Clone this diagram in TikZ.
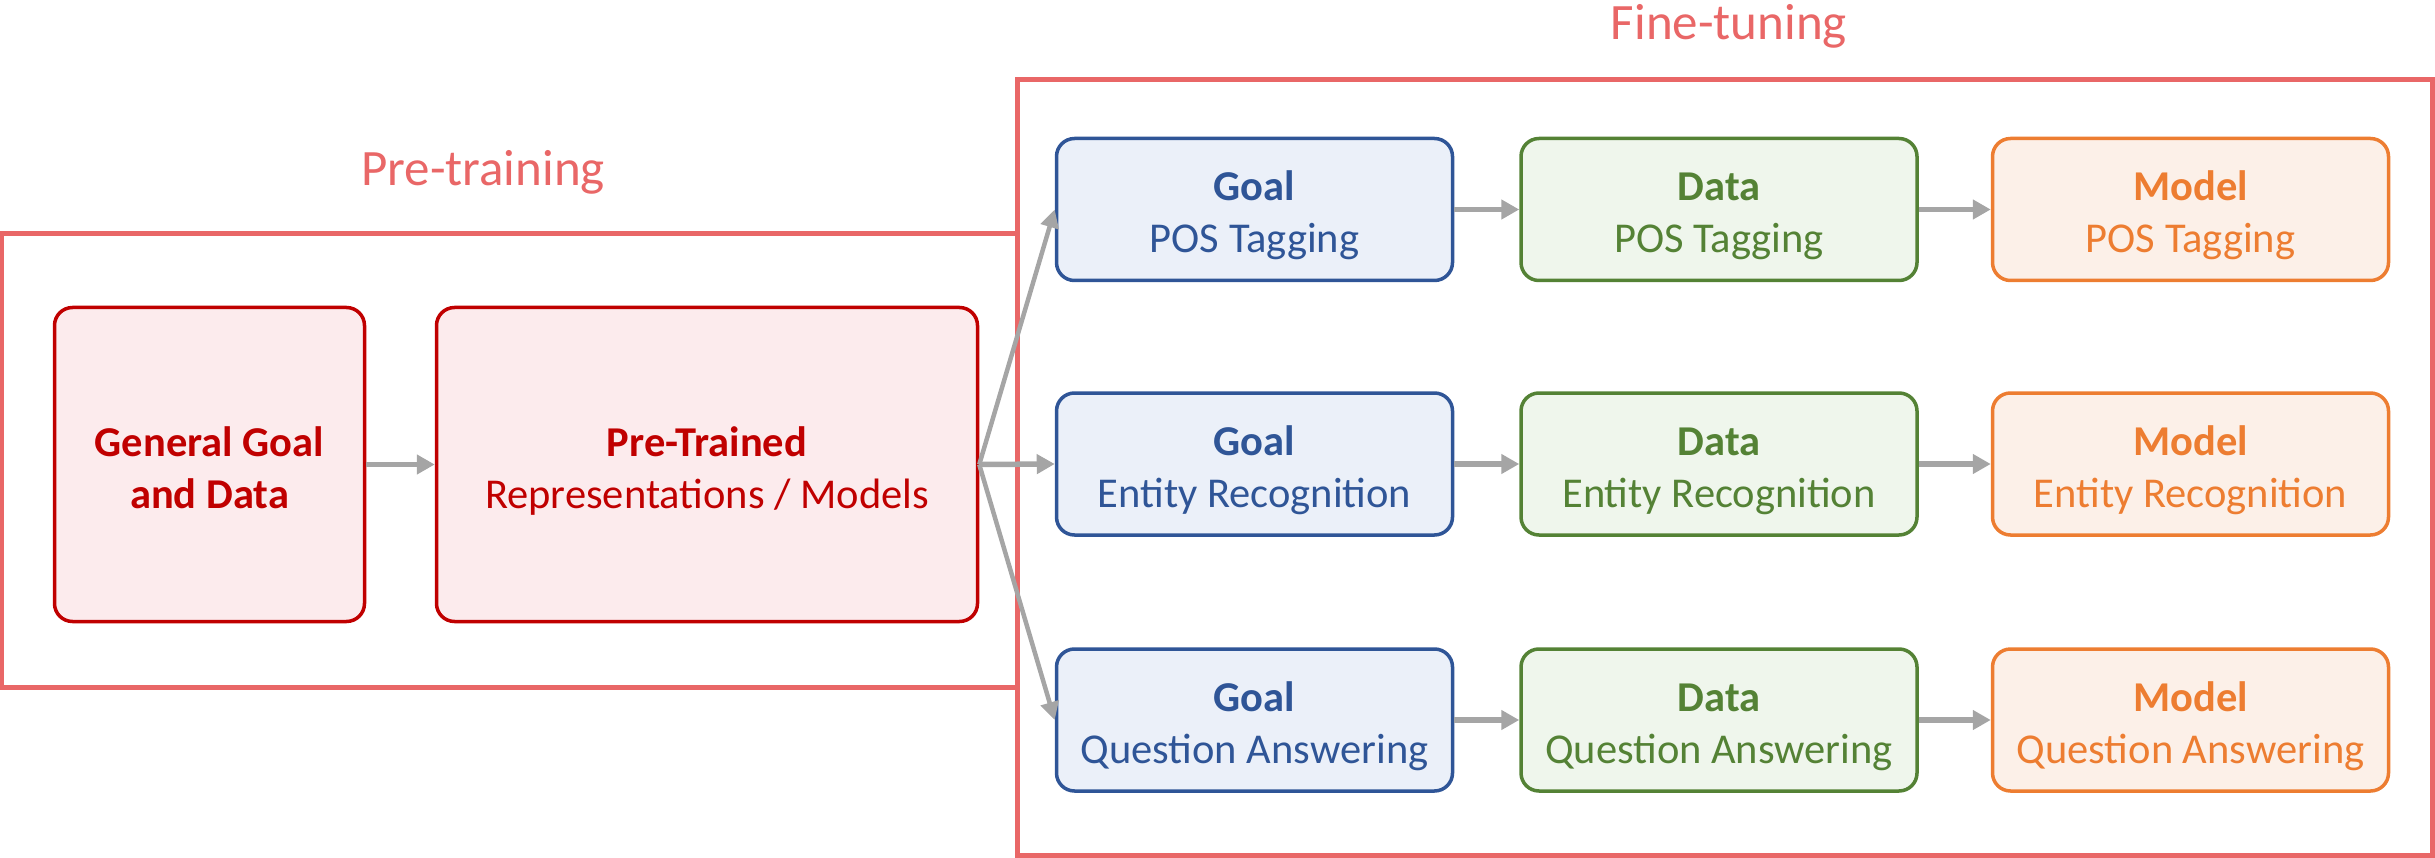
\documentclass[tikz,border=0pt]{standalone}
\usepackage{fontspec}
\setmainfont{Carlito}
\usetikzlibrary{arrows.meta}
\definecolor{framered}{HTML}{E96767}
\definecolor{ptred}{HTML}{C00000}
\definecolor{ptfill}{HTML}{FCEBED}
\definecolor{goalblue}{HTML}{2F5597}
\definecolor{goalfill}{HTML}{EBF0F9}
\definecolor{datagreen}{HTML}{548235}
\definecolor{datafill}{HTML}{EFF6EC}
\definecolor{modelorange}{HTML}{ED7D31}
\definecolor{modelfill}{HTML}{FCF0E8}
\definecolor{arrowgray}{HTML}{A5A5A5}
\newcommand\tstrut{\rule{0pt}{46pt}}
\newcommand\bstrut{\rule[-11pt]{0pt}{11pt}}
\begin{document}
\begin{tikzpicture}[x=1pt,y=-1pt,
  frm/.style={draw=framered, line width=5pt, inner sep=0pt},
  ttl/.style={text=framered, anchor=base, font=\fontsize{51}{60}\selectfont},
  box/.style={line width=3.5pt, rounded corners=18pt, inner sep=0pt, align=center,
    font=\fontsize{42.5}{52}\selectfont},
  ptbox/.style={box, draw=ptred, fill=ptfill, text=ptred, minimum height=314pt},
  goalbox/.style={box, draw=goalblue, fill=goalfill, text=goalblue, minimum width=396pt, minimum height=142pt},
  databox/.style={box, draw=datagreen, fill=datafill, text=datagreen, minimum width=396pt, minimum height=142pt},
  modelbox/.style={box, draw=modelorange, fill=modelfill, text=modelorange, minimum width=396pt, minimum height=142pt},
  arr/.style={draw=arrowgray, line width=5.5pt, -{Triangle[length=18pt,width=19pt]}},
  fan/.style={draw=arrowgray, line width=4.5pt, -{Triangle[length=18pt,width=18pt]}}
]
\useasboundingbox (0,0) rectangle (2435,858);
% frames
\node[frm, minimum width=1015.5pt, minimum height=454pt] (ptframe) at (509.25,460.5) {};
\node[frm, minimum width=1415pt, minimum height=775pt] (ftframe) at (1724.5,467.5) {};
\node[ttl] (pttitle) at (483,186) {Pre-training};
\node[ttl] (fttitle) at (1729,40) {Fine-tuning};
% pre-training boxes
\node[ptbox, minimum width=310pt] (gen) at (209.5,464.5) {\tstrut\textbf{General Goal}\\\textbf{and Data}\bstrut};
\node[ptbox, minimum width=541pt] (pre) at (707,464.5) {\tstrut\textbf{Pre-Trained}\\Representations / Models\bstrut};
% fine-tuning boxes
\node[goalbox] (g1) at (1254.5,209.5) {\tstrut\textbf{Goal}\\POS Tagging\bstrut};
\node[databox] (d1) at (1719,209.5) {\tstrut\textbf{Data}\\POS Tagging\bstrut};
\node[modelbox] (m1) at (2190.5,209.5) {\tstrut\textbf{Model}\\POS Tagging\bstrut};
\node[goalbox] (g2) at (1254.5,464) {\tstrut\textbf{Goal}\\Entity Recognition\bstrut};
\node[databox] (d2) at (1719,464) {\tstrut\textbf{Data}\\Entity Recognition\bstrut};
\node[modelbox] (m2) at (2190.5,464) {\tstrut\textbf{Model}\\Entity Recognition\bstrut};
\node[goalbox] (g3) at (1254.5,720) {\tstrut\textbf{Goal}\\Question Answering\bstrut};
\node[databox] (d3) at (1719,720) {\tstrut\textbf{Data}\\Question Answering\bstrut};
\node[modelbox] (m3) at (2190.5,720) {\tstrut\textbf{Model}\\Question Answering\bstrut};
% arrows
\draw[arr] (gen.east) -- (pre.west);
\draw[fan] (pre.east) -- (g1.west);
\draw[arr] (pre.east) -- (g2.west);
\draw[fan] (pre.east) -- (g3.west);
\draw[arr] (g1.east) -- (d1.west);
\draw[arr] (d1.east) -- (m1.west);
\draw[arr] (g2.east) -- (d2.west);
\draw[arr] (d2.east) -- (m2.west);
\draw[arr] (g3.east) -- (d3.west);
\draw[arr] (d3.east) -- (m3.west);
\end{tikzpicture}
\end{document}
